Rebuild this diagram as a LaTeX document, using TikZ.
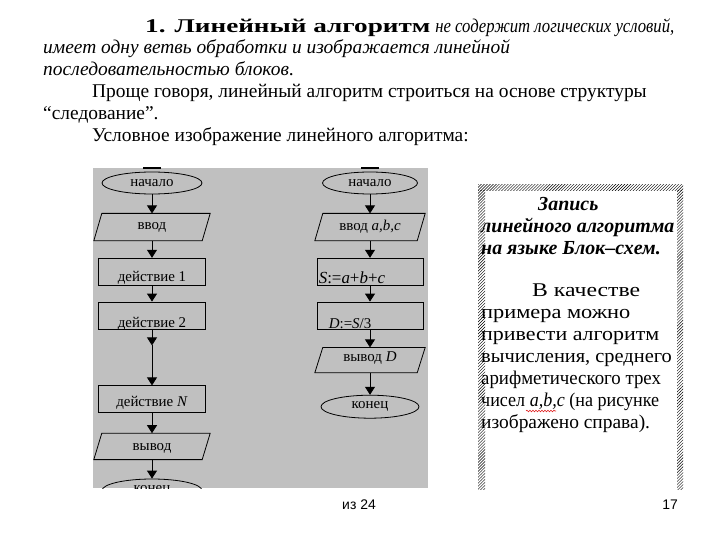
\documentclass[tikz,border=0pt]{standalone}
\usepackage{fontspec}
\usepackage{graphicx}
\setmainfont{Liberation Serif}
\newfontfamily\footfont{Liberation Sans}
\usetikzlibrary{positioning,arrows.meta,shapes.geometric,patterns,decorations.pathmorphing}
\definecolor{ink}  {HTML}{000000}
\definecolor{panel}{HTML}{C0C0C0}
\definecolor{spell}{HTML}{E02020}
% horizontally widened or narrowed text
\newcommand{\wide}[2]{\scalebox{#1}[1]{#2}}
% slanted outline of an input/output block
\newcommand{\ioframe}[1]{%
  \draw[line width=0.8bp, draw=ink]
    ([xshift=4bp]#1.north west) -- ([xshift=4bp]#1.north east)
    -- ([xshift=-4bp]#1.south east) -- ([xshift=-4bp]#1.south west) -- cycle;}

\begin{document}
\begin{tikzpicture}[
  x=1bp, y=1bp,
  font=\fontsize{15}{18}\selectfont,
  term/.style={ellipse, draw=ink, line width=0.8bp, minimum width=100bp,
               minimum height=22bp, inner sep=0pt},
  io/.style={rectangle, minimum width=108bp, minimum height=27bp, inner sep=0pt},
  act/.style={rectangle, draw=ink, line width=0.8bp, minimum width=107bp,
              minimum height=27bp, inner sep=0pt},
  low/.style={text height=#1, text depth=0pt},
  flow/.style={draw=ink, line width=0.8bp, -{Triangle[length=8bp, width=10bp]}},
  stub/.style={draw=ink, line width=3bp},
  hatch/.style={pattern=north east lines, pattern color=ink},
  prose/.style={anchor=north west, align=left, inner sep=0pt,
                font=\fontsize{19.5}{22}\selectfont}
]
\useasboundingbox (0,0) rectangle (720,-540);
\fill[white] (0,0) rectangle (720,-540);

% text above the picture
\node[prose] (intro) at (43,-18) {%
  \hspace*{102bp}\wide{1.4}{\textbf{1. Линейный алгоритм}} \wide{0.86}{\textit{не содержит логических условий,}}\\
  \textit{имеет одну ветвь обработки и изображается линейной}\\
  \textit{последовательностью блоков}.\\
  \hspace*{49bp}Проще говоря, линейный алгоритм строиться на основе структуры\\
  “следование”.\\
  \hspace*{49bp}Условное изображение линейного алгоритма:};

% grey panel with both flowcharts
\fill[panel] (93,-168) rectangle (428,-488);
\begin{scope}
\clip (93,-168) rectangle (428,-488);

% general scheme
\node[term] (start) at (152,-183) {начало};
\node[io, below=19bp of start] (in) {ввод};
\node[act, below=17bp of in, low=20bp] (act1) {действие 1};
\node[act, below=16bp of act1, low=23bp] (act2) {действие 2};
\node[act, below=56bp of act2, low=15bp] (actN) {действие \textit{N}};
\node[io, below=20bp of actN, minimum height=26bp, low=9bp] (out) {вывод};
\node[term, below=19bp of out, minimum height=23bp] (stop) {конец};
\coordinate[below=16bp of act2] (gap);
\ioframe{in}
\ioframe{out}

\draw[stub] ([xshift=-9bp]start.north |- 0,-168) -- ++(18,0);
\draw[flow] (start) -- (in);
\draw[flow] (in) -- (act1);
\draw[flow] (act1) -- (act2);
\draw[flow] (act2) -- (gap);
\draw[flow] (gap) -- (actN);
\draw[flow] (actN) -- (out);
\draw[flow] (out) -- (stop);

% mean of three numbers
\node[term, minimum width=95bp] (rstart) at (370,-183) {начало};
\node[io, below=19bp of rstart, minimum width=102bp] (rin) {ввод \textit{a,b,c}};
\node[act, below=17bp of rin, minimum width=106bp,
      label={[anchor=base west, inner sep=0pt, xshift=2bp, yshift=2bp,
              font=\fontsize{17}{18}\selectfont]south west:%
      \textit{S}:=\textit{a}+\textit{b}+\textit{c}}] (rsum) {};
\node[act, below=16bp of rsum, minimum width=106bp,
      label={[anchor=base west, inner sep=0pt, xshift=12bp, yshift=1bp]south west:%
      \textit{D}:=\textit{S}/3}] (rmean) {};
\node[io, below=18bp of rmean, minimum width=102bp, minimum height=25bp,
      text height=7bp, text depth=5bp] (rout) {вывод \textit{D}};
\node[term, below=22bp of rout, minimum width=98bp, minimum height=23bp] (rstop) {конец};
\ioframe{rin}
\ioframe{rout}

\draw[stub] ([xshift=-9bp]rstart.north |- 0,-168) -- ++(18,0);
\draw[flow] (rstart) -- (rin);
\draw[flow] (rin) -- (rsum);
\draw[flow] (rsum) -- (rmean);
\draw[flow] (rmean) -- (rout);
\draw[flow] (rout) -- (rstop);
\end{scope}

% hatched frame on the right
\fill[hatch] (478,-185) rectangle (683,-191);
\fill[hatch] (478,-191) rectangle (485,-489);
\fill[hatch] (677,-191) rectangle (683,-489);

\node[prose, font=\fontsize{20}{22}\selectfont\bfseries\itshape] (title) at (481,-197)
  {\hspace*{57bp}Запись\\линейного алгоритма\\на языке Блок–схем.};
\node[prose] (body) at (481,-284) {%
  \hspace*{51bp}\wide{1.22}{В качестве}\\
  \wide{1.15}{примера можно}\\
  \wide{1.13}{привести алгоритм}\\
  \wide{1.05}{вычисления, среднего}\\
  \wide{0.97}{арифметического трех}\\
  \wide{0.93}{чисел \textit{a,b,c} (на рисунке}\\
  изображено справа).};
\draw[spell, line width=0.6bp, decorate,
      decoration={snake, amplitude=0.8bp, segment length=3bp}] (526,-411) -- (556,-411);

% footer
\node[font=\footfont\fontsize{14}{16}\selectfont] (pageof) at (359,-505) {из 24};
\node[font=\footfont\fontsize{14}{16}\selectfont] (pageno) at (670,-505) {17};
\end{tikzpicture}
\end{document}
